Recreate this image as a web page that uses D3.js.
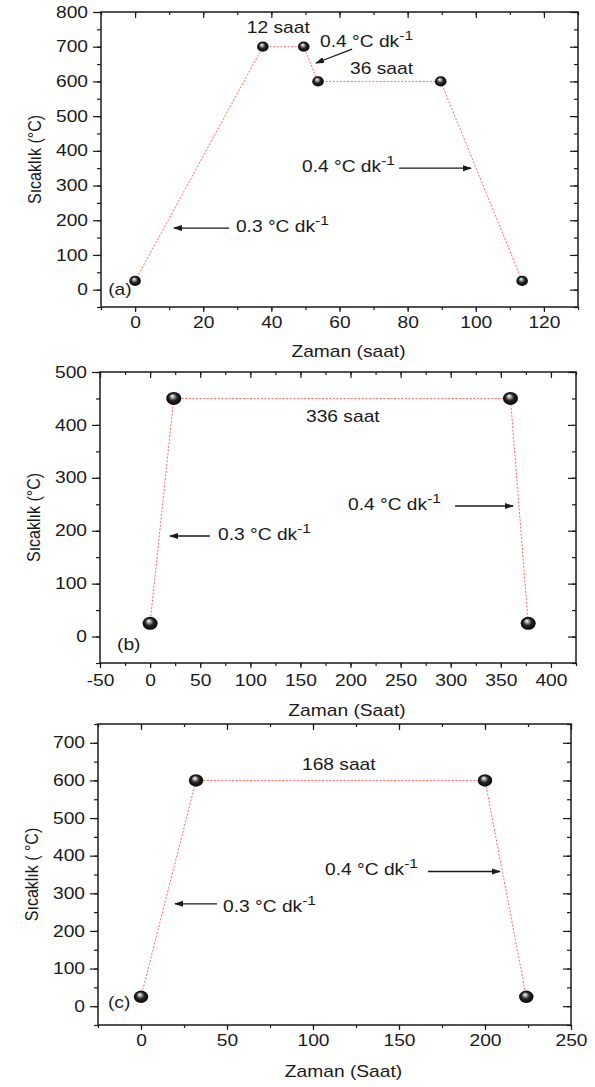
<!DOCTYPE html>
<html>
<head>
<meta charset="utf-8">
<script src="https://cdn.jsdelivr.net/npm/d3@7"></script>
<style>
  body { margin: 0; background: #fff; }
  text { font-family: "Liberation Sans", Arial, sans-serif; fill: #1a1a1a; }
</style>
</head>
<body>
<script>
// heating programmes (time in hours, temperature in °C)
const timeA = [0, 37.5, 49.5, 53.7, 89.7, 113.6];
const tempA = [25, 700, 700, 600, 600, 25];
const timeB = [0, 23.6, 359.6, 377.3];
const tempB = [25, 450, 450, 25];
const timeC = [0, 32, 200, 224];
const tempC = [25, 600, 600, 25];

// tick labels
const xTicksA = [0, 20, 40, 60, 80, 100, 120];
const yTicksA = [0, 100, 200, 300, 400, 500, 600, 700, 800];
const xTicksB = [-50, 0, 50, 100, 150, 200, 250, 300, 350, 400];
const yTicksB = [0, 100, 200, 300, 400, 500];
const xTicksC = [0, 50, 100, 150, 200, 250];
const yTicksC = [0, 100, 200, 300, 400, 500, 600, 700];

// annotations, in data units
const notesA = [
  {x: 32.8, y: 739, t: "12 saat"},
  {x: 54.3, y: 699, t: "0.4 °C dk", sup: "-1"},
  {x: 63.1, y: 621, t: "36 saat"},
  {x: 49.0, y: 339, t: "0.4 °C dk", sup: "-1"},
  {x: 29.6, y: 165, t: "0.3 °C dk", sup: "-1"},
  {x: -7.9, y: -15.6, t: "(a)"}
];
const arrowsA = [[63.7, 693, 53.1, 653], [77.5, 350, 98.6, 350], [27.6, 177.5, 11.4, 177.5]];
const notesB = [
  {x: 155.6, y: 405, t: "336 saat"},
  {x: 197.5, y: 239, t: "0.4 °C dk", sup: "-1"},
  {x: 67.8, y: 183, t: "0.3 °C dk", sup: "-1"},
  {x: -33, y: -25.5, t: "(b)"}
];
const arrowsB = [[304.3, 246.7, 362.2, 246.7], [59.8, 190, 19.9, 190]];
const notesC = [
  {x: 93.6, y: 628, t: "168 saat"},
  {x: 107, y: 349, t: "0.4 °C dk", sup: "-1"},
  {x: 47.7, y: 250.5, t: "0.3 °C dk", sup: "-1"},
  {x: -19.2, y: -4.8, t: "(c)"}
];
const arrowsC = [[166.9, 358, 208.7, 358], [44.2, 272, 19.8, 272]];

const W = 595, H = 1087;
const SX = 1.2; // the original figure is stretched sideways
const ink = "#1a1a1a";

const panels = [
  {time: timeA, temp: tempA, xDom: [-10, 130], yDom: [-50, 800], xTicks: xTicksA, yTicks: yTicksA,
   xMinor: 10, yMinor: 50, box: [101, 578, 12, 307], xPad: 5, xTitle: "Zaman (saat)", xTitleY: 351,
   yTitle: "Sıcaklık (°C)", r: [5.8, 5.1], notes: notesA, arrows: arrowsA},
  {time: timeB, temp: tempB, xDom: [-50, 425], yDom: [-50, 500], xTicks: xTicksB, yTicks: yTicksB,
   xMinor: 25, yMinor: 50, box: [100, 576, 372, 663], xPad: 7, xTitle: "Zaman (Saat)", xTitleY: 710,
   yTitle: "Sıcaklık (°C)", r: [7.5, 6.5], notes: notesB, arrows: arrowsB},
  {time: timeC, temp: tempC, xDom: [-25, 250], yDom: [-50, 750], xTicks: xTicksC, yTicks: yTicksC,
   xMinor: 25, yMinor: 50, box: [98, 571, 724, 1025], xPad: 5, xTitle: "Zaman (Saat)", xTitleY: 1071,
   yTitle: "Sıcaklık ( °C)", r: [7.2, 6.2], notes: notesC, arrows: arrowsC}
];

const svg = d3.select("body").append("svg")
    .attr("width", W).attr("height", H)
    .attr("xmlns", "http://www.w3.org/2000/svg");

const defs = svg.append("defs");
const ball = defs.append("radialGradient").attr("id", "ball")
    .attr("cx", "50%").attr("cy", "50%").attr("r", "55%")
    .attr("fx", "40%").attr("fy", "30%");
ball.append("stop").attr("offset", "0%").attr("stop-color", "#ffffff");
ball.append("stop").attr("offset", "18%").attr("stop-color", "#b8b8b8");
ball.append("stop").attr("offset", "50%").attr("stop-color", "#262626");
ball.append("stop").attr("offset", "100%").attr("stop-color", "#000000");

defs.append("marker").attr("id", "head")
    .attr("markerUnits", "userSpaceOnUse")
    .attr("markerWidth", 10).attr("markerHeight", 8)
    .attr("refX", 8).attr("refY", 3).attr("orient", "auto")
  .append("path").attr("d", "M0,0L9,3L0,6Z").attr("fill", ink);

function styleAxis(g) {
  g.attr("color", ink).attr("font-size", 16);
  g.select(".domain").remove();
  g.selectAll(".tick line").attr("stroke-width", 1.2);
}

function minorValues(dom, step) {
  return d3.range(dom[0], dom[1] + step / 2, step);
}

function drawPanel(p) {
  const [L, R, T, B] = p.box;
  const x = d3.scaleLinear().domain(p.xDom).range([L, R]);
  const y = d3.scaleLinear().domain(p.yDom).range([B, T]);
  const g = svg.append("g");

  // dotted programme line
  const line = d3.line().x(d => x(d[0])).y(d => y(d[1]));
  g.append("path")
      .datum(d3.zip(p.time, p.temp))
      .attr("d", line)
      .attr("fill", "none")
      .attr("stroke", "#ff6a6a")
      .attr("stroke-width", 1)
      .attr("stroke-dasharray", "2,1.6");

  // bottom / left: outward ticks with labels
  g.append("g").attr("transform", `translate(0,${B})`)
      .call(d3.axisBottom(x).tickValues(minorValues(p.xDom, p.xMinor)).tickSize(3).tickFormat(""))
      .call(styleAxis);
  g.append("g").attr("transform", `translate(0,${B})`)
      .call(d3.axisBottom(x).tickValues(p.xTicks).tickSize(5).tickPadding(p.xPad).tickFormat(d => String(d)))
      .call(styleAxis)
      .call(a => a.selectAll("text").attr("transform", `scale(${SX},1)`));

  g.append("g").attr("transform", `translate(${L},0)`)
      .call(d3.axisLeft(y).tickValues(minorValues(p.yDom, p.yMinor)).tickSize(4).tickFormat(""))
      .call(styleAxis);
  g.append("g").attr("transform", `translate(${L},0)`)
      .call(d3.axisLeft(y).tickValues(p.yTicks).tickSize(8).tickFormat(d => String(d)))
      .call(styleAxis)
      .call(a => a.selectAll("text").attr("x", -13 / SX).attr("transform", `scale(${SX},1)`));

  // top / right: inward ticks, no labels
  g.append("g").attr("transform", `translate(0,${T})`)
      .call(d3.axisTop(x).tickValues(minorValues(p.xDom, p.xMinor)).tickSize(-3).tickFormat(""))
      .call(styleAxis);
  g.append("g").attr("transform", `translate(0,${T})`)
      .call(d3.axisTop(x).tickValues(p.xTicks).tickSize(-6).tickFormat(""))
      .call(styleAxis);
  g.append("g").attr("transform", `translate(${R},0)`)
      .call(d3.axisRight(y).tickValues(minorValues(p.yDom, p.yMinor)).tickSize(-4).tickFormat(""))
      .call(styleAxis);
  g.append("g").attr("transform", `translate(${R},0)`)
      .call(d3.axisRight(y).tickValues(p.yTicks).tickSize(-8).tickFormat(""))
      .call(styleAxis);

  g.append("rect")
      .attr("x", L).attr("y", T).attr("width", R - L).attr("height", B - T)
      .attr("fill", "none").attr("stroke", ink).attr("stroke-width", 1.5);

  // sphere markers
  g.selectAll("ellipse")
    .data(d3.zip(p.time, p.temp))
    .join("ellipse")
      .attr("cx", d => x(d[0]))
      .attr("cy", d => y(d[1]))
      .attr("rx", p.r[0]).attr("ry", p.r[1])
      .attr("fill", "url(#ball)");

  // titles
  g.append("text")
      .attr("transform", `translate(${(L + R) / 2 + 9},${p.xTitleY}) scale(${SX},1)`)
      .attr("text-anchor", "middle").attr("dy", "0.36em")
      .attr("font-size", 16)
      .text(p.xTitle);
  g.append("text")
      .attr("transform", `translate(${L - 67},${(T + B) / 2}) rotate(-90) scale(1,${SX})`)
      .attr("text-anchor", "middle").attr("dy", "0.36em")
      .attr("font-size", 16)
      .text(p.yTitle);

  // annotations
  p.notes.forEach(n => {
    const t = g.append("text")
        .attr("transform", `translate(${x(n.x)},${y(n.y)}) scale(${SX},1)`)
        .attr("font-size", 16)
        .text(n.t);
    if (n.sup) t.append("tspan").attr("font-size", 13).attr("dy", -7).text(n.sup);
  });
  g.selectAll(".arrow")
    .data(p.arrows)
    .join("line")
      .attr("class", "arrow")
      .attr("x1", d => x(d[0])).attr("y1", d => y(d[1]))
      .attr("x2", d => x(d[2])).attr("y2", d => y(d[3]))
      .attr("stroke", ink).attr("stroke-width", 1.3)
      .attr("marker-end", "url(#head)");
}

panels.forEach(drawPanel);
</script>
</body>
</html>
